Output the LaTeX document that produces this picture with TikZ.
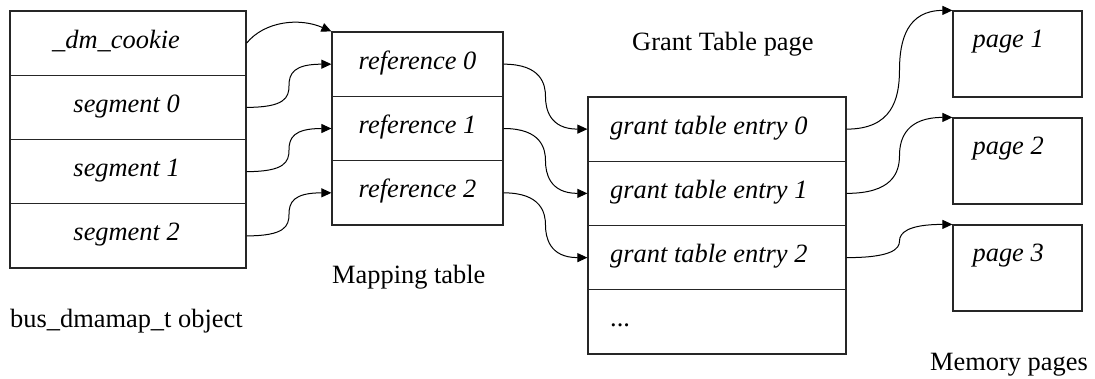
\documentclass[tikz,border=0pt]{standalone}
\usepackage{fontspec}
\setmainfont{Liberation Serif}
\usetikzlibrary{arrows.meta,calc}
\newcommand\fsz{\fontsize{26.4}{31}\selectfont}
\tikzset{
 cell/.style={draw=black!85, line width=1.2pt, inner sep=0pt},
 lcell/.style={cell, minimum width=236pt, minimum height=64.25pt},
 mcell/.style={cell, minimum width=171pt, minimum height=64.33pt, font=\fsz\itshape, text height=17pt, text depth=7pt},
 gcell/.style={cell, minimum width=258pt, minimum height=64.25pt},
 pcell/.style={cell, minimum width=129pt, minimum height=86pt},
 itxt/.style={inner sep=0pt, font=\fsz\itshape, text height=17pt, text depth=7pt},
 rtxt/.style={inner sep=0pt, font=\fsz, text height=17pt, text depth=7pt},
 conn/.style={line width=1pt, -{Triangle[length=10pt,width=9pt]}},
}
\newcommand\sconn[4]{\draw[conn] (#1) .. controls +(#3,0) and +(0,-#4) .. ($(#1)!0.5!(#2)$) .. controls +(0,#4) and +(-#3,0) .. (#2);}
\begin{document}
\begin{tikzpicture}[x=1pt,y=-1pt]
\useasboundingbox (0,0) rectangle (1095,378);
% left object
\node[lcell] (c0) at (128,43.125) {};
\node[lcell] (s0) at (128,107.375) {};
\node[lcell] (s1) at (128,171.625) {};
\node[lcell] (s2) at (128,235.875) {};
\node[itxt, anchor=east] (tc0) at ($(c0.center)+(52,0)$) {\_dm\_cookie};
\node[itxt, anchor=east] (ts0) at ($(s0.center)+(52,0)$) {segment 0};
\node[itxt, anchor=east] (ts1) at ($(s1.center)+(52,0)$) {segment 1};
\node[itxt, anchor=east] (ts2) at ($(s2.center)+(52,0)$) {segment 2};
\node[rtxt, anchor=west] (lobj) at (10,322) {bus\_dmamap\_t object};
% mapping table
\node[mcell] (m0) at (417.5,64.17) {reference 0};
\node[mcell] (m1) at (417.5,128.5) {reference 1};
\node[mcell] (m2) at (417.5,192.83) {reference 2};
\node[rtxt, anchor=west] (lmap) at (332,278) {Mapping table};
% grant table
\node[gcell] (g0) at (717,129.125) {};
\node[gcell] (g1) at (717,193.375) {};
\node[gcell] (g2) at (717,257.625) {};
\node[gcell] (g3) at (717,321.875) {};
\node[itxt, anchor=west] (tg0) at ($(g0.center)+(-107,0)$) {grant table entry 0};
\node[itxt, anchor=west] (tg1) at ($(g1.center)+(-107,0)$) {grant table entry 1};
\node[itxt, anchor=west] (tg2) at ($(g2.center)+(-107,0)$) {grant table entry 2};
\node[rtxt, anchor=west] (tg3) at ($(g3.center)+(-107,0)$) {...};
\node[rtxt, anchor=west] (lgrant) at (632,45) {Grant Table page};
% pages
\node[pcell] (p1) at (1017.5,54) {};
\node[pcell] (p2) at (1017.5,161) {};
\node[pcell] (p3) at (1017.5,268) {};
\node[itxt, anchor=west] (tp1) at ($(p1.north west)+(20,32)$) {page 1};
\node[itxt, anchor=west] (tp2) at ($(p2.north west)+(20,32)$) {page 2};
\node[itxt, anchor=west] (tp3) at ($(p3.north west)+(20,32)$) {page 3};
\node[rtxt, anchor=east] (lpages) at (1088,365) {Memory pages};
% connectors
\draw[conn] (c0.east) .. controls +(18,-22) and +(-32,-14) .. (m0.north west);
\sconn{s0.east}{m0.west}{38}{-12}
\sconn{s1.east}{m1.west}{38}{-12}
\sconn{s2.east}{m2.west}{38}{-12}
\sconn{m0.east}{g0.west}{38}{12}
\sconn{m1.east}{g1.west}{38}{12}
\sconn{m2.east}{g2.west}{38}{12}
\sconn{g0.east}{p1.north west}{45}{-30}
\sconn{g1.east}{p2.north west}{45}{-18}
\sconn{g2.east}{p3.north west}{45}{-8}
\end{tikzpicture}
\end{document}
